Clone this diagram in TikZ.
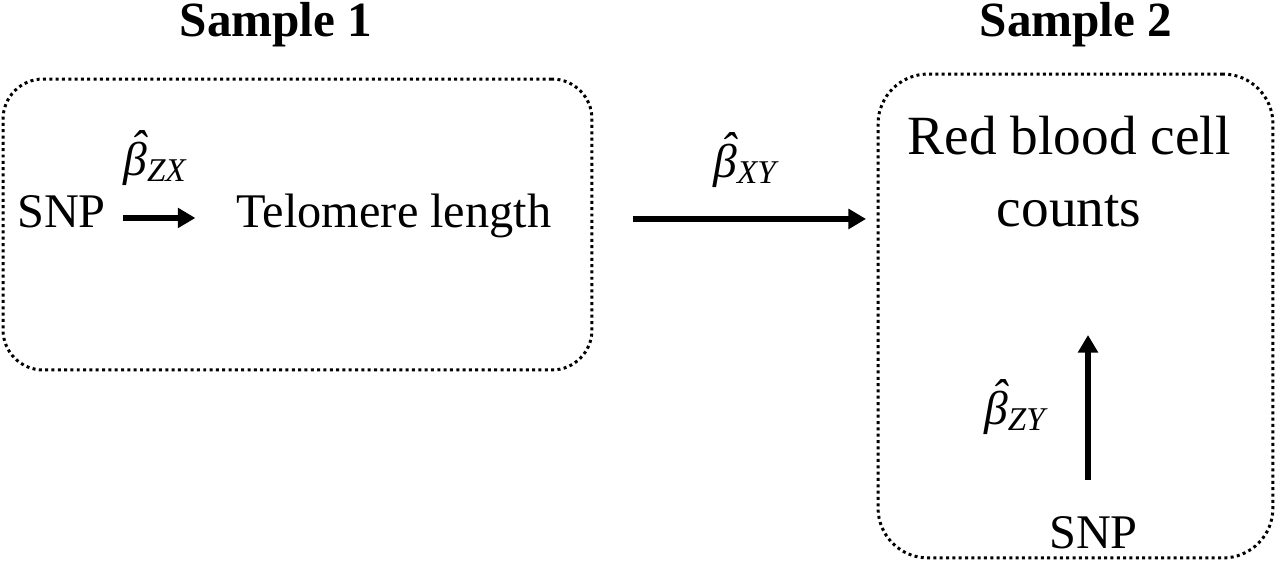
\documentclass[tikz,border=0pt]{standalone}
\usepackage{amsmath, amssymb}
\usepackage{fontspec}
\setmainfont{Liberation Serif}
\usetikzlibrary{arrows.meta}
\newcommand{\betahat}[1]{{\itshape\accent"02C6 β}$_{\textit{#1}}$}

\begin{document}
\begin{tikzpicture}[x=0.02cm,y=-0.02cm,
    every node/.style={inner sep=0pt},
    txt/.style={font=\fontsize{27.5}{32}\selectfont},
    big/.style={font=\fontsize{31.5}{41}\selectfont,align=center},
    ttl/.style={font=\fontsize{28}{32}\selectfont\bfseries},
    est/.style={font=\fontsize{27}{32}\selectfont},
    sample/.style={draw,line width=1.7pt,dash pattern=on 1.7pt off 1.9pt},
    eff/.style={line width=3.6pt,-{Triangle[length=10pt,width=11pt]}}]
    \useasboundingbox (0,0) rectangle (1280,563);
    \node[sample,rounded corners=0.8cm,minimum width=11.78cm,minimum height=5.82cm] (box1) at (297.5,224.5) {};
    \node[sample,rounded corners=1cm,minimum width=7.9cm,minimum height=9.68cm] (box2) at (1075.5,316) {};
    \node[ttl,anchor=base] (s1) at (276,37) {Sample 1};
    \node[ttl,anchor=base] (s2) at (1076,37) {Sample 2};
    \node[txt,anchor=base] (snp1) at (61.5,228) {SNP};
    \node[txt,anchor=base] (telo) at (394,228) {Telomere length};
    \node[big] (rbc) at (1069,172) {Red blood cell\\counts};
    \node[txt,anchor=base] (snp2) at (1093.5,548) {SNP};
    \coordinate (rbcin) at (1088,335);
    \node[est] (bzx) at (155,158) {\betahat{ZX}};
    \node[est] (bxy) at (745,160) {\betahat{XY}};
    \node[est] (bzy) at (1015,407) {\betahat{ZY}};
    \draw[eff,shorten <=0.34cm,shorten >=0.82cm] ([yshift=0.12cm]snp1.mid east) -- ([yshift=0.12cm]telo.mid west);
    \draw[eff,line width=3.2pt,shorten <=1.62cm,shorten >=0.21cm] ([yshift=0.1cm]telo.mid east) -- ([yshift=0.1cm]telo.mid east -| box2.west);
    \draw[eff,shorten <=0.72cm] (snp2.north -| rbcin) -- (rbcin);
\end{tikzpicture}
\end{document}
